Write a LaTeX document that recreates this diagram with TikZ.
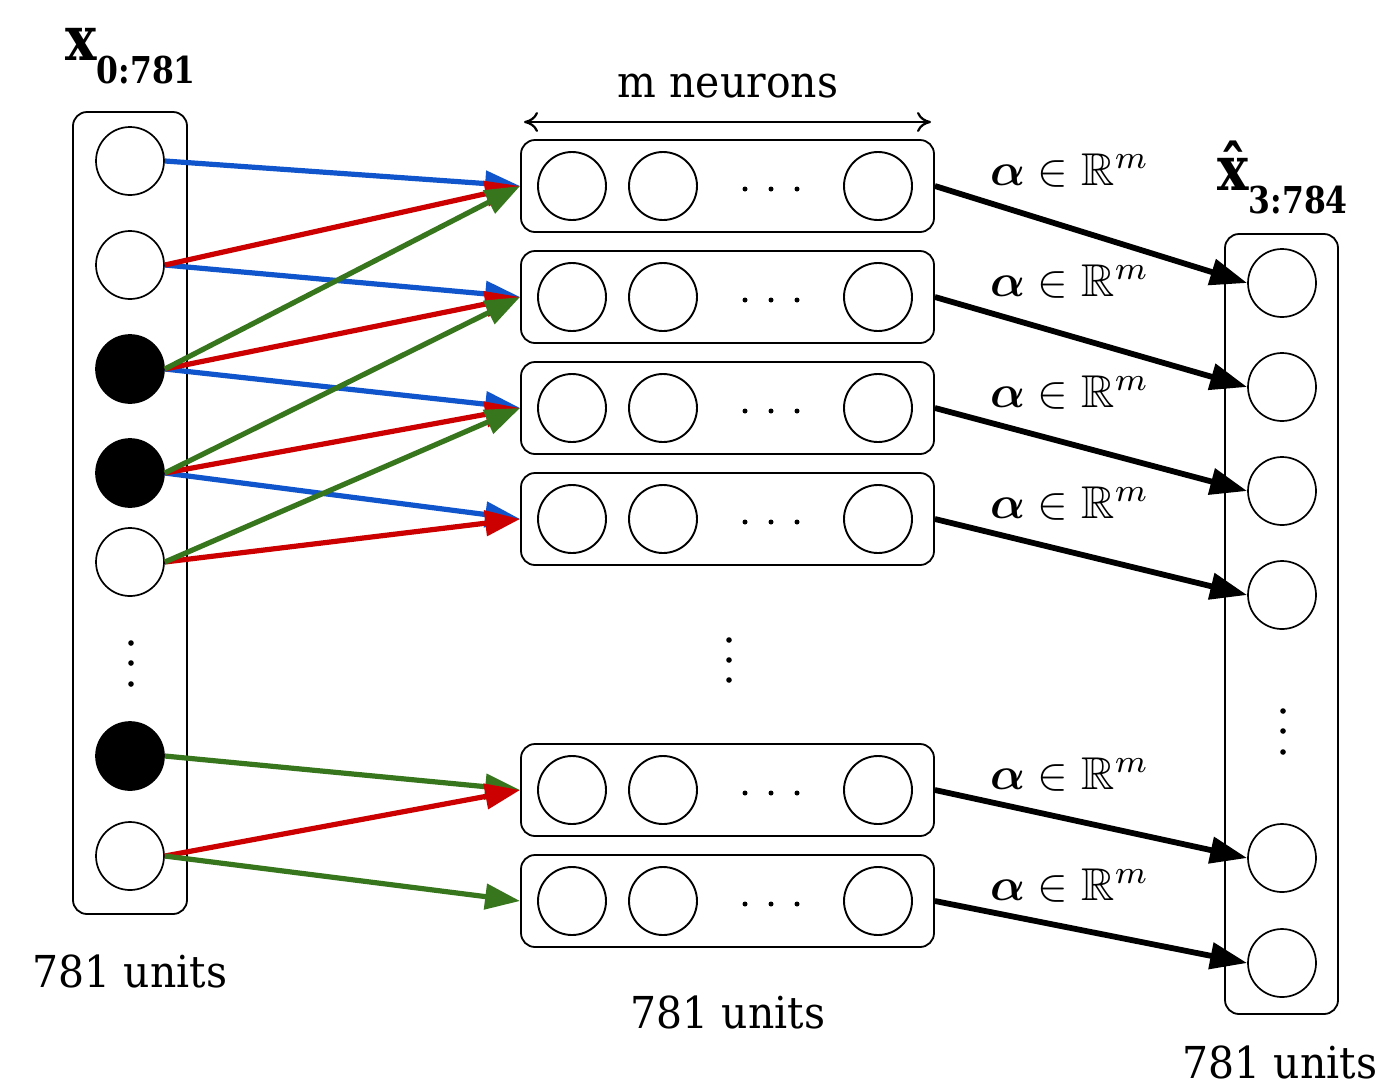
\documentclass[tikz,border=0pt]{standalone}
\usepackage{amsmath,amssymb,bm}
\usepackage{graphicx}
\usepackage{fontspec}
\setmainfont{DejaVu Serif}[FakeStretch=0.93]
\newfontfamily\tagfont{DejaVu Serif}[FakeStretch=0.85]
\usetikzlibrary{arrows.meta}

\definecolor{linkblue}{HTML}{1155CC}
\definecolor{linkred}{HTML}{CC0000}
\definecolor{linkgreen}{HTML}{38761D}

\tikzset{
  unit/.style={circle, draw, line width=1.7pt, minimum size=68pt, inner sep=0pt},
  hot/.style={unit, fill=black},
  hunit/.style={unit, line width=1.9pt},
  layerbox/.style={draw, rounded corners=14pt, line width=1.8pt, inner sep=0pt},
  hbox/.style={layerbox, minimum width=413pt, minimum height=92pt},
  feed/.style={line width=5.2pt, -{Triangle[length=35pt,width=25pt]}},
  outlink/.style={line width=5.8pt, -{Triangle[length=37pt,width=26pt]}},
  caption/.style={font=\fontsize{44}{52}\selectfont, inner sep=0pt, anchor=base},
  alphatag/.style={inner sep=0pt, anchor=base west},
  dotmark/.style={fill=black},
}

\begin{document}
\begin{tikzpicture}[x=1pt,y=-1pt]
\useasboundingbox (0,0) rectangle (1375,1085);

% input layer
\node[layerbox, minimum width=114pt, minimum height=802pt] (inbox) at (130,513) {};
\node[unit] (in1) at (130,161) {};
\node[unit] (in2) at (130,265) {};
\node[hot]  (in3) at (130,369) {};
\node[hot]  (in4) at (130,473) {};
\node[unit] (in5) at (130,562) {};
\node[hot]  (in7) at (130,756) {};
\node[unit] (in8) at (130,856) {};
\foreach \y in {643,663,684} \fill[dotmark] (131,\y) circle (2.8pt);

\node[inner sep=0pt, anchor=base west] (inlabel) at (65,60)
  {\tagfont\bfseries\fontsize{62}{68}\selectfont x\raisebox{-23pt}{\fontsize{37}{42}\selectfont 0:781}};
\node[caption] (incap) at (130,987) {781 units};

% hidden blocks
\foreach \i/\y in {1/186,2/297,3/408,4/519,5/790,6/901}{
  \node[hbox] (h\i) at (727.5,\y) {};
  \node[hunit] (h\i a) at (572,\y) {};
  \node[hunit] (h\i b) at (663,\y) {};
  \node[hunit] (h\i c) at (878,\y) {};
  \foreach \x in {745,771,797} \fill[dotmark] (\x,\y+3) circle (2.5pt);
}
\foreach \y in {640,660,680} \fill[dotmark] (729,\y) circle (2.8pt);

\coordinate (spanL) at (524,122);
\coordinate (spanR) at (931,122);
\draw[line width=2.2pt, {Computer Modern Rightarrow[length=14pt,width=20pt]}-{Computer Modern Rightarrow[length=14pt,width=20pt]}] (spanL) -- (spanR);
\node[caption] (neur) at (728,97) {m neurons};
\node[caption] (hcap) at (728,1028) {781 units};

% output layer
\node[layerbox, minimum width=113pt, minimum height=780pt] (outbox) at (1281.5,624) {};
\node[unit] (o1) at (1282,283) {};
\node[unit] (o2) at (1282,387) {};
\node[unit] (o3) at (1282,491) {};
\node[unit] (o4) at (1282,595) {};
\node[unit] (o5) at (1282,858) {};
\node[unit] (o6) at (1282,963) {};
\foreach \y in {711,731,752} \fill[dotmark] (1283,\y) circle (2.8pt);

\node[inner sep=0pt, anchor=base west] (outlabel) at (1217,190)
  {\tagfont\bfseries\fontsize{62}{68}\selectfont \^{x}\raisebox{-23pt}{\fontsize{37}{42}\selectfont 3:784}};
\node[caption] (ocap) at (1280,1078) {781 units};

% weight labels
\foreach \i/\y in {1/185,2/296,3/407,4/518,5/789,6/900}
  \node[alphatag] (a\i) at (990,\y) {\scalebox{4.6}{$\bm{\alpha}\in\mathbb{R}^m$}};

% input-to-block links
\draw[feed, linkblue] (in1.east) -- (h1.west);
\draw[feed, linkblue] (in2.east) -- (h2.west);
\draw[feed, linkblue] (in3.east) -- (h3.west);
\draw[feed, linkblue] (in4.east) -- (h4.west);
\draw[feed, linkred] (in2.east) -- (h1.west);
\draw[feed, linkred] (in3.east) -- (h2.west);
\draw[feed, linkred] (in4.east) -- (h3.west);
\draw[feed, linkred] (in5.east) -- (h4.west);
\draw[feed, linkgreen] (in3.east) -- (h1.west);
\draw[feed, linkgreen] (in4.east) -- (h2.west);
\draw[feed, linkgreen] (in5.east) -- (h3.west);
\draw[feed, linkgreen] (in7.east) -- (h5.west);
\draw[feed, linkred] (in8.east) -- (h5.west);
\draw[feed, linkgreen] (in8.east) -- (h6.west);

% block-to-output links
\foreach \i in {1,...,6} \draw[outlink] (h\i.east) -- (o\i.west);
\end{tikzpicture}
\end{document}
